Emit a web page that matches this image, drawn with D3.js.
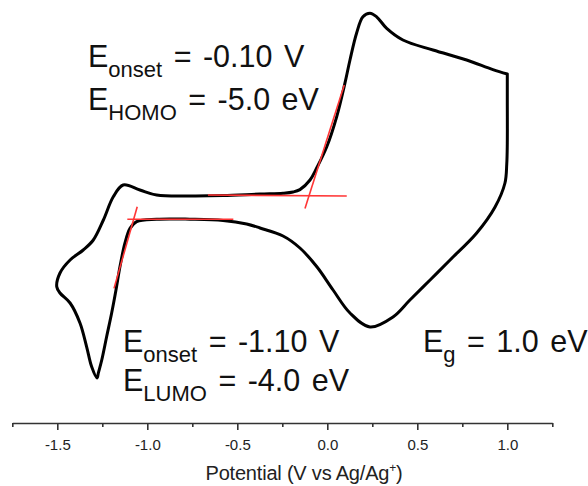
<!DOCTYPE html>
<html>
<head>
<meta charset="utf-8">
<script src="https://cdn.jsdelivr.net/npm/d3@7"></script>
<style>
  body { margin: 0; background: #fff; }
  svg { display: block; font-family: "Liberation Sans", Arial, sans-serif; }
</style>
</head>
<body>
<div id="chart"></div>
<script>

/**
 * Cyclic voltammogram data.
 * potential in V vs Ag/Ag+, current in arbitrary units.
 * Starts at the switching point (1.0 V) and goes round the loop.
 */
var cvPotential = [
    1.000, 1.000, 1.000, 0.997, 0.987, 0.932, 0.830, 0.682, 0.571, 0.459,
    0.365, 0.237, 0.126, 0.032, -0.057, -0.152, -0.246, -0.374, -0.448, -0.579,
    -0.763, -0.948, -1.059, -1.096, -1.124, -1.152, -1.174, -1.198, -1.226, -1.253,
    -1.272, -1.279, -1.309, -1.337, -1.374, -1.429, -1.485, -1.503, -1.485, -1.429,
    -1.356, -1.300, -1.244, -1.189,
    -1.134, -1.041, -0.948, -0.763, -0.579, -0.374, -0.246, -0.190, -0.152, -0.096, -0.059,
    -0.003, 0.052, 0.098, 0.126, 0.163, 0.198, 0.237, 0.274, 0.330, 0.420,
    0.587, 0.774, 0.920
];
var cvCurrent = [
    36.5, 30.0, 19.25, 14.0, 9.25, 3.25, -3.25, -10.0, -15.0, -20.0,
    -24.25, -26.75, -23.25, -17.5, -11.75, -7.0, -4.0, -2.0, -1.0, -0.1,
    0.2, 0.2, -0.4, -2.1, -5.75, -11.7, -17.5, -23.25, -29.2, -35.0,
    -38.25, -39.5, -36.7, -31.7, -25.75, -20.75, -18.25, -16.7, -13.25, -10.0,
    -7.5, -5.0, 0.0, 5.8,
    8.75, 7.5, 6.25, 6.0, 6.1, 6.5, 6.7, 7.0, 7.6, 10.0, 13.0,
    18.3, 25.8, 34.2, 40.0, 46.75, 50.8, 51.7, 50.8, 47.9, 45.0,
    42.5, 40.0, 37.6
];

// onset construction lines: [potential, current] end points
var oxTangent  = [[0.094, 33.75], [-0.124, 2.9]];
var oxBaseline = [[-0.663, 6.25], [0.108, 6.0]];
var redTangent  = [[-1.056, 3.3], [-1.185, -17.1]];
var redBaseline = [[-1.111, 0.2], [-0.522, 0.2]];

var majorTicks = [-1.5, -1.0, -0.5, 0.0, 0.5, 1.0];
var minorTicks = [-1.75, -1.25, -0.75, -0.25, 0.25, 0.75, 1.25];

/**
 * Constructor
 */
function CVView(divid, width, height){
    this.divId = divid;
    this.svgWidth  = width;
    this.svgHeight = height;
}

/**
 * Initialization
 */
CVView.prototype.init = function(){
    this.svg = d3.select(this.divId).append('svg')
        .attr('width', this.svgWidth)
        .attr('height', this.svgHeight);

    this.x = d3.scaleLinear().domain([-1.75, 1.25]).range([12.3, 552.3]);
    this.y = d3.scaleLinear().domain([0, 50]).range([220, 20]);
};

/**
 * Draw axis, curve, tangents and labels
 */
CVView.prototype.update = function(){
    var x = this.x, y = this.y;

    // axis
    var axisG = this.svg.append('g')
        .attr('transform', 'translate(0,423)')
        .call(d3.axisBottom(x).tickValues(majorTicks).tickSize(7).tickSizeOuter(0)
            .tickFormat(function (d) { return d.toFixed(1); }));
    axisG.select('.domain').attr('stroke', '#333').attr('stroke-width', 1.6);
    axisG.selectAll('.tick line').attr('stroke', '#333').attr('stroke-width', 1.6);
    axisG.selectAll('.tick text')
        .attr('y', 16)
        .attr('fill', '#222')
        .style('font-size', '15px')
        .style('font-family', '"Liberation Sans", Arial, sans-serif');

    var minorG = this.svg.append('g')
        .attr('transform', 'translate(0,423)')
        .call(d3.axisBottom(x).tickValues(minorTicks).tickSize(4).tickFormat(''));
    minorG.select('.domain').remove();
    minorG.selectAll('.tick line').attr('stroke', '#333').attr('stroke-width', 1.6);

    var title = this.svg.append('text')
        .attr('x', 304)
        .attr('y', 480)
        .attr('text-anchor', 'middle')
        .attr('fill', '#222')
        .style('font-size', '20px')
        .style('letter-spacing', '-0.2px');
    title.append('tspan').text('Potential (V vs Ag/Ag');
    title.append('tspan').attr('dy', -8).style('font-size', '12px').text('+');
    title.append('tspan').attr('dy', 8).text(')');

    // CV loop, open curve that ends where it started so the switching corner stays sharp
    var pts = cvPotential.map(function (v, i) { return [v, cvCurrent[i]]; });
    pts.push(pts[0]);
    var line = d3.line()
        .x(function (d) { return x(d[0]); })
        .y(function (d) { return y(d[1]); })
        .curve(d3.curveCatmullRom.alpha(0.5));

    this.svg.append('path')
        .datum(pts)
        .attr('d', line)
        .attr('fill', 'none')
        .attr('stroke', '#000')
        .attr('stroke-width', 3)
        .attr('stroke-linejoin', 'round')
        .attr('stroke-linecap', 'round');

    // onset lines
    var straight = d3.line()
        .x(function (d) { return x(d[0]); })
        .y(function (d) { return y(d[1]); });
    this.svg.selectAll('path.onset')
        .data([oxTangent, oxBaseline, redTangent, redBaseline]).enter()
        .append('path')
        .attr('class', 'onset')
        .attr('d', straight)
        .attr('fill', 'none')
        .attr('stroke', '#ff3535')
        .attr('stroke-width', 1.6);

    // labels
    this.label(88, 67, 'onset', ' = -0.10 V');
    this.label(88, 110, 'HOMO', ' = -5.0 eV');
    this.label(123, 352, 'onset', ' = -1.10 V');
    this.label(123, 391, 'LUMO', ' = -4.0 eV');
    this.label(423, 352, 'g', ' = 1.0 eV');
};

/**
 * Helper: "E" with subscript and the rest of the line
 */
CVView.prototype.label = function (px, py, sub, rest) {
    var t = this.svg.append('text')
        .attr('x', px)
        .attr('y', py)
        .attr('fill', '#111')
        .style('font-size', '30.5px')
        .style('word-spacing', '3px');
    t.append('tspan').text('E');
    t.append('tspan').attr('dy', 10).style('font-size', '22px').text(sub);
    t.append('tspan').attr('dy', -10).text(rest);
};

var view = new CVView('#chart', 588, 486);
view.init();
view.update();

</script>
</body>
</html>
